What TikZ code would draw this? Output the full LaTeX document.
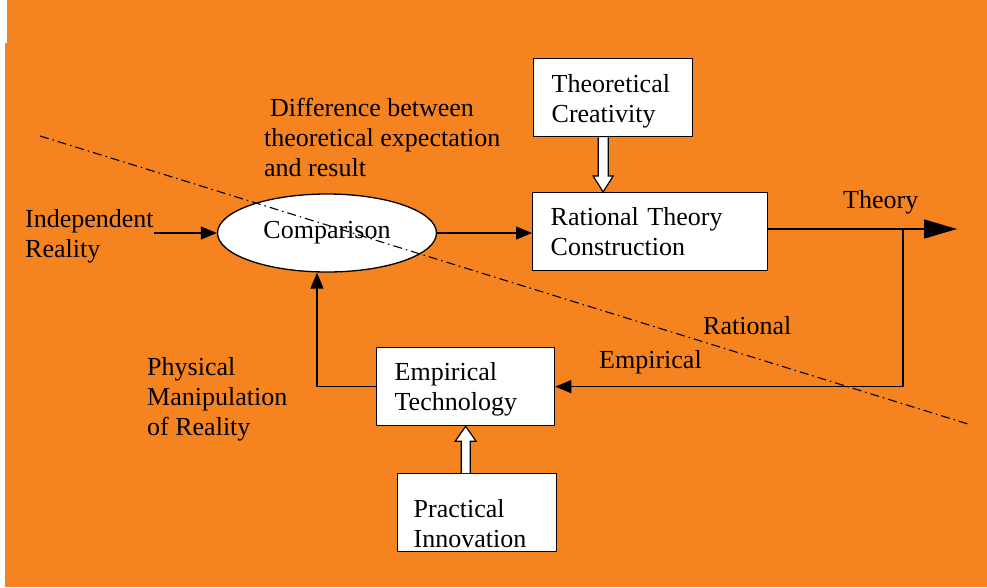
\documentclass[tikz,border=0pt]{standalone}
\usepackage{fontspec}
\setmainfont{Liberation Serif}
\usepackage{tikz}
\usetikzlibrary{shapes.geometric,arrows.meta,calc}

\definecolor{bgorange}{RGB}{245,131,32}

\tikzset{
  lbl/.style={draw=none, inner sep=0pt, align=left, anchor=base west},
  blok/.style={draw, fill=white, line width=1.3pt, align=left, anchor=north west,
    inner xsep=18pt, inner ysep=0pt, minimum height=78pt},
  flow/.style={line width=1.2pt, -{Triangle[length=16pt,width=13pt]}},
  hollow/.style={draw, fill=white, line width=1.2pt, line join=miter}
}

\begin{document}
\begin{tikzpicture}[x=1pt, y=-1pt, font=\fontsize{26}{30}\selectfont]

\useasboundingbox (0,0) rectangle (987,587);
\fill[bgorange] (5,43) rectangle (987,587);
\fill[bgorange] (7,0) rectangle (987,43);

% boxes
\node[blok, text width=123pt] (tc) at (533,58) {\rule{0pt}{26pt}Theoretical\\Creativity};
\node[blok, text width=199pt] (rtc) at (532,192) {Rational Theory\\Construction};
\node[blok, text width=142pt] (emp) at (376,347) {\rule{0pt}{24pt}Empirical\\Technology};
\node[blok, text width=127pt, inner xsep=16pt] (pi) at (397,473) {\rule{0pt}{40pt}Practical\\Innovation};
\node[draw, fill=white, ellipse, line width=1.3pt, inner sep=0pt,
  minimum width=219pt, minimum height=78pt] (cmp) at (327,233) {Comparison};

% free labels (base = last line)
\node[lbl] (ir) at (25,257) {Independent\\Reality};
\node[lbl] (diff) at (264,176) {\hspace{6pt}Difference between\\theoretical expectation\\and result};
\node[lbl] (thy) at (843,208) {Theory};
\node[lbl] (rat) at (703,334) {Rational};
\node[lbl] (emplbl) at (599,368) {Empirical};
\node[lbl] (phys) at (147,435) {Physical\\Manipulation\\of Reality};

% connectors
\coordinate (out) at (957,229);
\coordinate (tap) at (903,229);
\draw[flow] (ir.east |- cmp.west) -- (cmp.west);
\draw[flow] (cmp.east) -- (cmp.east -| rtc.west);
\draw[line width=1.2pt, -{Triangle[length=33pt,width=19pt]}] (rtc.east |- out) -- (out);
\draw[flow] (tap) |- (emp.east);
\draw[flow] (emp.west) -| ([xshift=-10pt]cmp.south);

% hollow arrows
\coordinate (a1top) at ([xshift=-10pt]tc.south);
\coordinate (a1tip) at (a1top |- rtc.north);
\draw[hollow] ([xshift=-5pt]a1top) -- ([xshift=-5pt,yshift=16pt]a1tip) -- ([xshift=-10pt,yshift=16pt]a1tip)
  -- (a1tip) -- ([xshift=10pt,yshift=16pt]a1tip) -- ([xshift=5pt,yshift=16pt]a1tip) -- ([xshift=5pt]a1top);
\coordinate (a2bot) at (emp.south |- pi.north);
\draw[hollow] ([xshift=-4.5pt]a2bot) -- ([xshift=-4.5pt,yshift=-15pt]emp.south) -- ([xshift=-10.5pt,yshift=-15pt]emp.south)
  -- (emp.south) -- ([xshift=10.5pt,yshift=-15pt]emp.south) -- ([xshift=4.5pt,yshift=-15pt]emp.south) -- ([xshift=4.5pt]a2bot);

% divider between the rational and the empirical side
\coordinate (divA) at (40,136);
\coordinate (divB) at (968,424);
\draw[line width=1.1pt, dash pattern=on 9pt off 4pt on 1.5pt off 4pt] (divA) -- (divB);

\end{tikzpicture}
\end{document}
